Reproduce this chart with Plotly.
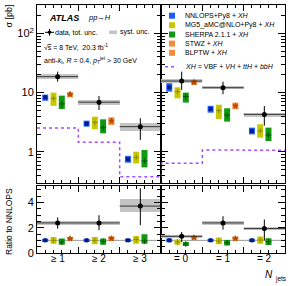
import plotly.graph_objects as go
import math

# ---------------- data ----------------
bins_left = ["≥ 1", "≥ 2", "≥ 3"]
bins_right = ["= 0", "= 1", "= 2"]

# cross sections [pb], order: >=1, >=2, >=3, =0, =1, =2
data = [18.6, 6.9, 2.67, 15.7, 12.1, 4.3]
data_tot_hi = [22.6, 8.8, 3.7, 22.6, 15.3, 5.95]
data_tot_lo = [15.3, 5.1, 1.6, 11.1, 9.4, 2.77]
data_sys_hi = [20.6, 7.5, 3.1, 16.9, 12.9, 4.6]
data_sys_lo = [16.9, 6.2, 2.3, 14.4, 11.4, 3.9]

nnlops = [8.35, 3.0, 0.753, 12.3, 5.3, 2.26]
nnlops_hi = [9.25, 3.37, 0.86, 14.4, 6.0, 2.57]
nnlops_lo = [7.3, 2.67, 0.66, 10.4, 4.6, 1.98]

mg5 = [8.0, 3.16, 0.81, 10.4, 4.97, 2.26]
mg5_hi = [10.0, 3.94, 1.01, 12.3, 6.27, 2.93]
mg5_lo = [6.0, 2.41, 0.64, 8.0, 3.6, 1.74]

sherpa = [6.44, 2.57, 0.705, 8.6, 4.2, 1.93]
sherpa_hi = [8.9, 3.55, 1.08, 10.0, 5.45, 2.57]
sherpa_lo = [5.3, 2.06, 0.55, 6.8, 3.25, 1.53]

# STWZ / BLPTW (None where no prediction)
stwz = [9.4, None, None, 14.9, None, None]
stwz_hi = [10.1, None, None, 16.4, None, None]
stwz_lo = [8.35, None, None, 13.5, None, None]
blptw = [None, 3.33, None, None, 5.95, None]
blptw_hi = [None, 3.85, None, None, 6.8, None]
blptw_lo = [None, 2.85, None, None, 5.25, None]

xh = [2.54, 1.46, 0.384, 0.645, 1.08, 1.07]

# ratios to NNLOPS
r_data = [2.38, 2.38, 3.71, 1.32, 2.38, 1.93]
r_tot_hi = [2.81, 2.99, 5.12, 1.66, 2.91, 2.65]
r_tot_lo = [1.93, 1.80, 2.20, 0.87, 1.85, 1.00]
r_sys_hi = [2.54, 2.54, 4.24, 1.46, 2.51, 2.06]
r_sys_lo = [2.20, 2.20, 3.21, 1.19, 2.25, 1.80]

r_nnlops = [1.0, 1.0, 1.0, 1.0, 1.0, 1.0]
r_nnlops_hi = [1.12, 1.12, 1.13, 1.14, 1.12, 1.13]
r_nnlops_lo = [0.88, 0.88, 0.87, 0.86, 0.88, 0.87]
r_mg5 = [1.0, 1.0, 1.08, 0.87, 0.95, 1.03]
r_mg5_hi = [1.26, 1.26, 1.34, 1.06, 1.22, 1.30]
r_mg5_lo = [0.74, 0.69, 0.74, 0.66, 0.69, 0.74]
r_sherpa = [0.87, 0.92, 0.95, 0.71, 0.82, 0.90]
r_sherpa_hi = [1.14, 1.14, 1.48, 0.87, 1.03, 1.16]
r_sherpa_lo = [0.66, 0.66, 0.74, 0.55, 0.60, 0.63]
r_stwz = [1.14, None, None, 1.22, None, None]
r_stwz_hi = [1.26, None, None, 1.34, None, None]
r_stwz_lo = [0.98, None, None, 1.06, None, None]
r_blptw = [None, 1.14, None, None, 1.14, None]
r_blptw_hi = [None, 1.32, None, None, 1.30, None]
r_blptw_lo = [None, 0.95, None, None, 0.98, None]

# ---------------- style ----------------
W, H = 294, 286
L, R, T, B = 37, 285, 5, 253
FONT = "Liberation Sans, Arial, sans-serif"
C_BLUE, C_BLUE_M = "#1a5cff", "#001a80"
C_YEL, C_YEL_M = "#c8c800", "#8a8a00"
C_GRN, C_GRN_M = "#109910", "#005500"
C_ORA, C_ORA_M = "#f58c3c", "#b84800"
C_SYS = "#c4c4c4"
C_XH = "#a64dff"


def px(x):
    return (x - L) / (R - L)


def py(y):
    return (B - y) / (B - T)


fig = go.Figure()

offsets = [0.2, 0.4, 0.6, 0.8]
centers = [0.5, 1.5, 2.5]

panels = [
    ("x", "y", slice(0, 3), True),
    ("x2", "y2", slice(3, 6), True),
    ("x3", "y3", slice(0, 3), False),
    ("x4", "y4", slice(3, 6), False),
]


def box_trace(xa, ya, xpos, c, hi, lo, col, mcol, sym, msize):
    xs, ys, ep, em = [], [], [], []
    for x, v, h, l in zip(xpos, c, hi, lo):
        if v is None:
            continue
        xs.append(x)
        ys.append(v)
        ep.append(h - v)
        em.append(v - l)
    return go.Scatter(
        x=xs, y=ys, xaxis=xa, yaxis=ya, mode="markers",
        marker=dict(symbol=sym, size=msize, color=mcol, line=dict(width=1, color=mcol)),
        error_y=dict(type="data", symmetric=False, array=ep, arrayminus=em,
                     thickness=6, width=0, color=col),
        showlegend=False, hoverinfo="skip")


for xa, ya, sl, top in panels:
    if top:
        d, th, tl, sh, slo = data[sl], data_tot_hi[sl], data_tot_lo[sl], data_sys_hi[sl], data_sys_lo[sl]
        models = [
            (nnlops, nnlops_hi, nnlops_lo, C_BLUE, C_BLUE_M, "square", 3, 0),
            (mg5, mg5_hi, mg5_lo, C_YEL, C_YEL_M, "cross-thin", 4, 1),
            (sherpa, sherpa_hi, sherpa_lo, C_GRN, C_GRN_M, "cross-thin", 4, 2),
            (stwz, stwz_hi, stwz_lo, C_ORA, C_ORA_M, "star", 4, 3),
            (blptw, blptw_hi, blptw_lo, C_ORA, C_ORA_M, "star", 4, 3),
        ]
    else:
        d, th, tl, sh, slo = r_data[sl], r_tot_hi[sl], r_tot_lo[sl], r_sys_hi[sl], r_sys_lo[sl]
        models = [
            (r_nnlops, r_nnlops_hi, r_nnlops_lo, C_BLUE, C_BLUE_M, "square", 3, 0),
            (r_mg5, r_mg5_hi, r_mg5_lo, C_YEL, C_YEL_M, "cross-thin", 4, 1),
            (r_sherpa, r_sherpa_hi, r_sherpa_lo, C_GRN, C_GRN_M, "cross-thin", 4, 2),
            (r_stwz, r_stwz_hi, r_stwz_lo, C_ORA, C_ORA_M, "star", 4, 3),
            (r_blptw, r_blptw_hi, r_blptw_lo, C_ORA, C_ORA_M, "star", 4, 3),
        ]
    # syst band
    fig.add_trace(go.Bar(x=centers, base=slo, y=[h - l for h, l in zip(sh, slo)],
                         width=1.0, marker=dict(color=C_SYS, line=dict(width=0)),
                         xaxis=xa, yaxis=ya, showlegend=False, hoverinfo="skip"))
    if not top:
        fig.add_trace(go.Scatter(x=[0, 3], y=[1, 1], mode="lines",
                                 line=dict(color="#999999", width=1),
                                 xaxis=xa, yaxis=ya, showlegend=False, hoverinfo="skip"))
    # XH step
    if top:
        if sl.start == 0:
            fig.add_trace(go.Scatter(x=[0, 1, 2, 3], y=xh[0:3] + [xh[2]], mode="lines",
                                     line=dict(color=C_XH, width=1.5, dash="dot", shape="hv"),
                                     xaxis=xa, yaxis=ya, showlegend=False, hoverinfo="skip"))
        else:
            fig.add_trace(go.Scatter(x=[0, 0, 1, 2, 3], y=[xh[2]] + xh[3:6] + [xh[5]], mode="lines",
                                     line=dict(color=C_XH, width=1.5, dash="dot", shape="hv"),
                                     xaxis=xa, yaxis=ya, showlegend=False, hoverinfo="skip"))
    # models
    for c, hi, lo, col, mcol, sym, ms, k in models:
        xpos = [i + offsets[k] for i in range(3)]
        fig.add_trace(box_trace(xa, ya, xpos, c[sl], hi[sl], lo[sl], col, mcol, sym, ms))
    # data
    fig.add_trace(go.Scatter(
        x=centers, y=d, xaxis=xa, yaxis=ya, mode="markers",
        marker=dict(symbol="circle", size=5, color="black"),
        error_y=dict(type="data", symmetric=False,
                     array=[h - v for h, v in zip(th, d)],
                     arrayminus=[v - l for v, l in zip(d, tl)],
                     thickness=1, width=0, color="black"),
        error_x=dict(type="constant", value=0.5, thickness=1, width=0, color="#333333"),
        showlegend=False, hoverinfo="skip"))

ydom_top = [py(183), 1.0]
ydom_bot = [0.0, py(185.5)]

xcommon = dict(range=[0, 3], tickvals=[0, 1, 2, 3], ticks="inside", ticklen=6,
               tickcolor="black", showticklabels=False, showline=True, linecolor="black",
               linewidth=1, mirror="ticks", showgrid=False, zeroline=False,
               minor=dict(dtick=0.2, tick0=0, ticks="inside", ticklen=3, tickcolor="black"))

ylog = dict(type="log", range=[math.log10(0.3), math.log10(300)],
            tickvals=[1, 10, 100], ticktext=["1", "10", "10<sup>2</sup>"],
            ticks="inside", ticklen=7, tickcolor="black", showline=True, linecolor="black",
            linewidth=1, mirror="ticks", showgrid=False, zeroline=False,
            tickfont=dict(size=11, color="black", family=FONT),
            minor=dict(tickvals=[v * m for m in (0.1, 1, 10, 100) for v in range(2, 10)],
                       ticks="inside", ticklen=4, tickcolor="black"))

ylin = dict(range=[0, 5.34], tickvals=[0, 2, 4], ticks="inside", ticklen=7,
            tickcolor="black", showline=True, linecolor="black", linewidth=1,
            mirror="ticks", showgrid=False, zeroline=False,
            tickfont=dict(size=11, color="black", family=FONT),
            minor=dict(dtick=0.5, tick0=0, ticks="inside", ticklen=4, tickcolor="black"))

fig.update_layout(
    width=W, height=H,
    margin=dict(l=L, r=W - R, t=T, b=H - B),
    paper_bgcolor="white", plot_bgcolor="white",
    barmode="overlay", bargap=0,
    font=dict(family=FONT, color="black", size=8),
    showlegend=False,
    xaxis=dict(domain=[0, 0.5], anchor="y", **xcommon),
    xaxis2=dict(domain=[0.5, 1], anchor="y2", **xcommon),
    xaxis3=dict(domain=[0, 0.5], anchor="y3", **xcommon),
    xaxis4=dict(domain=[0.5, 1], anchor="y4", **xcommon),
    yaxis=dict(domain=ydom_top, anchor="x", **ylog),
    yaxis2=dict(domain=ydom_top, anchor="x2", **{**ylog, "showticklabels": False}),
    yaxis3=dict(domain=ydom_bot, anchor="x3", **ylin),
    yaxis4=dict(domain=ydom_bot, anchor="x4", **{**ylin, "showticklabels": False}),
)

ann = []
for i, t in enumerate(bins_left):
    ann.append(dict(x=centers[i], y=py(258.5), xref="x3", yref="paper", text=t,
                    showarrow=False, font=dict(size=10), xanchor="center", yanchor="middle"))
for i, t in enumerate(bins_right):
    ann.append(dict(x=centers[i], y=py(258.5), xref="x4", yref="paper", text=t,
                    showarrow=False, font=dict(size=10), xanchor="center", yanchor="middle"))

ann += [
    dict(x=px(269), y=py(274), text="<i>N</i>", xanchor="center", yanchor="middle",
         font=dict(size=10)),
    dict(x=px(273), y=py(278.5), text="jets", xanchor="left", yanchor="middle",
         font=dict(size=6.5)),
    dict(x=px(8), y=py(16.5), text="σ [pb]", textangle=-90, xanchor="center", yanchor="middle",
         font=dict(size=9)),
    dict(x=px(9), y=py(222), text="Ratio to NNLOPS", textangle=-90, xanchor="center",
         yanchor="middle", font=dict(size=8.5)),
    dict(x=px(47), y=py(17.5), text="<b><i>ATLAS</i></b>", xanchor="left", yanchor="middle",
         font=dict(size=9)),
    dict(x=px(86), y=py(17.5), text="<i>pp</i>→<i>H</i>", xanchor="left", yanchor="middle",
         font=dict(size=7.5)),
    dict(x=px(53), y=py(32.3), text="data, tot. unc.", xanchor="left", yanchor="middle",
         font=dict(size=7)),
    dict(x=px(118), y=py(32.3), text="syst. unc.", xanchor="left", yanchor="middle",
         font=dict(size=7)),
    dict(x=px(42), y=py(46.7), text="√<span style='text-decoration:overline'>s</span> = 8 TeV,  20.3 fb<sup>-1</sup>",
         xanchor="left", yanchor="middle", font=dict(size=7)),
    dict(x=px(42), y=py(60.7), text="anti-<i>k</i><sub>t</sub>, <i>R</i> = 0.4, <i>p</i><sub>T</sub><sup>jet</sup> > 30 GeV",
         xanchor="left", yanchor="middle", font=dict(size=7)),
]

leg_rows = [
    (15.7, "NNLOPS+Py8 + <i>XH</i>", C_BLUE),
    (25.2, "MG5_aMC@NLO+Py8 + <i>XH</i>", C_YEL),
    (34.5, "SHERPA 2.1.1 + <i>XH</i>", C_GRN),
    (43.6, "STWZ + <i>XH</i>", C_ORA),
    (52.8, "BLPTW + <i>XH</i>", C_ORA),
]
shapes = []
for yy, txt, col in leg_rows:
    ann.append(dict(x=px(183), y=py(yy), text=txt, xanchor="left", yanchor="middle",
                    font=dict(size=7)))
    shapes.append(dict(type="rect", xref="paper", yref="paper", x0=px(169), x1=px(175),
                       y0=py(yy + 3), y1=py(yy - 3), fillcolor=col, line=dict(width=0)))
ann.append(dict(x=px(183), y=py(66.7),
                text="<i>XH</i> = VBF + <i>VH</i> + <i>ttH</i> + <i>bbH</i>",
                xanchor="left", yanchor="middle", font=dict(size=7)))
shapes.append(dict(type="line", xref="paper", yref="paper", x0=px(165), x1=px(177),
                   y0=py(66.7), y1=py(66.7), line=dict(color=C_XH, width=1.5, dash="dot")))
shapes += [
    dict(type="line", xref="paper", yref="paper", x0=px(45), x1=px(54), y0=py(32.3), y1=py(32.3),
         line=dict(color="black", width=1)),
    dict(type="line", xref="paper", yref="paper", x0=px(49.5), x1=px(49.5), y0=py(29), y1=py(35.7),
         line=dict(color="black", width=1)),
    dict(type="circle", xref="paper", yref="paper", x0=px(47.7), x1=px(51.3), y0=py(30.5), y1=py(34.1),
         fillcolor="black", line=dict(width=0)),
    dict(type="rect", xref="paper", yref="paper", x0=px(109), x1=px(117), y0=py(30.5), y1=py(34.1),
         fillcolor=C_SYS, line=dict(width=0)),
]
for a in ann:
    a.setdefault("xref", "paper")
    a.setdefault("yref", "paper")
    a.setdefault("showarrow", False)
fig.update_layout(annotations=ann, shapes=shapes)

fig.write_html("out.html", config={"displayModeBar": False, "staticPlot": True},
               post_script="document.body.style.margin='0';")
